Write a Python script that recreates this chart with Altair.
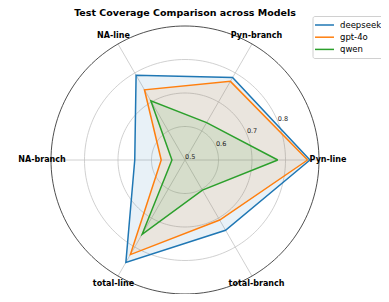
import math
import altair as alt
import pandas as pd

categories = ["Pyn-line", "Pyn-branch", "NA-line", "NA-branch", "total-line", "total-branch"]
models = ["deepseek", "gpt-4o", "qwen"]
deepseek = [0.873, 0.784, 0.792, 0.650, 0.853, 0.742]
gpt4o = [0.866, 0.771, 0.742, 0.571, 0.826, 0.707]
qwen = [0.777, 0.629, 0.704, 0.539, 0.756, 0.604]
series = [deepseek, gpt4o, qwen]
colors = ["#1f77b4", "#ff7f0e", "#2ca02c"]
ring_ticks = [0.6, 0.7, 0.8]
tick_labels = [0.5, 0.6, 0.7, 0.8]
r_min, r_max = 0.5, 0.9

FONT = "DejaVu Sans"
R = r_max - r_min
n = len(categories)
angles = [2 * math.pi * i / n for i in range(n)]

# series polygons (closed)
rows = []
for m, vals in zip(models, series):
    for k in range(n + 1):
        i = k % n
        r = vals[i] - r_min
        rows.append({"model": m, "order": k, "category": categories[i], "value": vals[i],
                     "x": r * math.cos(angles[i]), "y": r * math.sin(angles[i])})
poly = pd.DataFrame(rows)

# spokes
spokes = pd.DataFrame([{"x": 0.0, "y": 0.0, "x2": R * math.cos(a), "y2": R * math.sin(a)} for a in angles])

# rings
ring_rows = []
steps = 180
for t in ring_ticks + [r_max]:
    for s in range(steps + 1):
        a = 2 * math.pi * s / steps
        ring_rows.append({"ring": t, "order": s, "outer": t == r_max,
                          "x": (t - r_min) * math.cos(a), "y": (t - r_min) * math.sin(a)})
rings = pd.DataFrame(ring_rows)

# radial tick labels at 22.5 degrees
rl = math.radians(22.5)
rlabels = pd.DataFrame([{"label": f"{t:.1f}", "x": (t - r_min) * math.cos(rl), "y": (t - r_min) * math.sin(rl)} for t in tick_labels])

# category labels
lab_r = R + 0.027
clabels = pd.DataFrame([{"label": c, "x": lab_r * math.cos(a), "y": lab_r * math.sin(a)} for c, a in zip(categories, angles)])

xs = alt.Scale(domain=[-R, R], nice=False, zero=False)
ys = alt.Scale(domain=[-R, R], nice=False, zero=False)
X = lambda: alt.X("x:Q", scale=xs, axis=None)
Y = lambda: alt.Y("y:Q", scale=ys, axis=None)

ring_layer = alt.Chart(rings[~rings["outer"]]).mark_line(color="#c4c4c4", strokeWidth=0.8).encode(
    x=X(), y=Y(), detail="ring:N", order="order:Q")
outer_layer = alt.Chart(rings[rings["outer"]]).mark_line(color="#222222", strokeWidth=0.8).encode(
    x=X(), y=Y(), order="order:Q")
spoke_layer = alt.Chart(spokes).mark_rule(color="#c4c4c4", strokeWidth=0.8).encode(
    x=X(), y=Y(), x2="x2:Q", y2="y2:Q")
rlabel_layer = alt.Chart(rlabels).mark_text(align="left", baseline="bottom", font=FONT, fontSize=6.5, color="#222222").encode(
    x=X(), y=Y(), text="label:N")
clabel_layer = alt.Chart(clabels).mark_text(align="center", baseline="middle", font=FONT, fontSize=8, fontWeight="bold", color="#000000").encode(
    x=X(), y=Y(), text="label:N")

cscale = alt.Scale(domain=models, range=colors)
leg = alt.Legend(
    title=None, orient="none", legendX=261.5, legendY=-10,
    symbolType="M-2,0L2,0", symbolSize=90, symbolStrokeWidth=1.5,
    labelFontSize=8.5, labelFont=FONT, labelColor="#000000",
    padding=3.5, strokeColor="#d0d0d0", fillColor="#ffffff", cornerRadius=2,
    rowPadding=2.2, symbolOffset=3, labelOffset=10)
series_layer = alt.Chart(poly).mark_line(strokeWidth=1.5, fillOpacity=0.1).encode(
    x=X(), y=Y(), order="order:Q",
    stroke=alt.Stroke("model:N", scale=cscale, legend=leg),
    fill=alt.Fill("model:N", scale=cscale, legend=leg),
)

chart = alt.layer(ring_layer, spoke_layer, outer_layer, series_layer, rlabel_layer, clabel_layer).properties(
    width=268, height=268,
    autosize="none",
    padding={"left": 43, "top": 18, "right": 62, "bottom": 0},
    title=alt.Title("Test Coverage Comparison across Models", font=FONT, fontSize=9.5, fontWeight="bold",
                    color="#000000", anchor="middle", frame="group", offset=4, dy=6),
).configure_view(stroke=None)

chart.save("out.html", embed_options={"renderer": "svg", "actions": False})
